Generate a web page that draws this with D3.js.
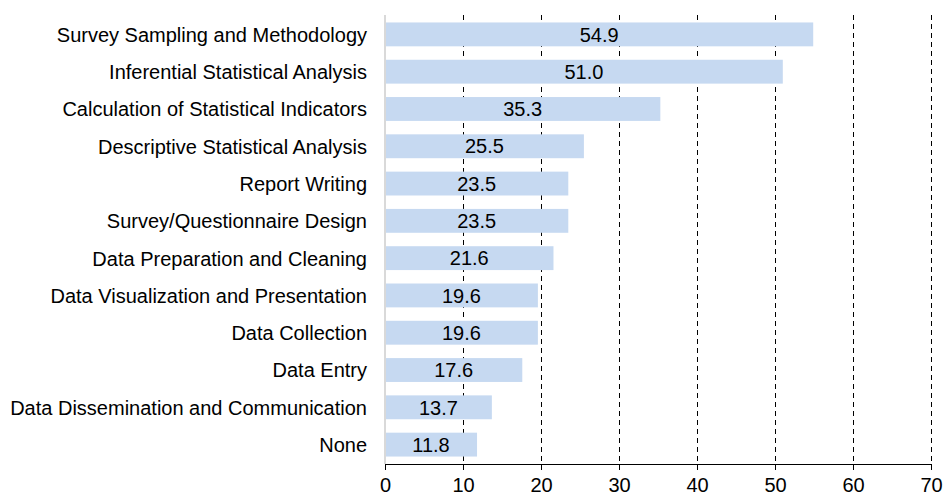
<!DOCTYPE html>
<meta charset="utf-8">
<title>Skills</title>
<style>
  body { margin: 0; background: #fff; }
  text { font-family: "Liberation Sans", Arial, sans-serif; fill: #000; }
  line, path { shape-rendering: crispEdges; }
</style>
<body>
<script src="https://d3js.org/d3.v7.min.js"></script>
<script>

const categories = [
  "Survey Sampling and Methodology",
  "Inferential Statistical Analysis",
  "Calculation of Statistical Indicators",
  "Descriptive Statistical Analysis",
  "Report Writing",
  "Survey/Questionnaire Design",
  "Data Preparation and Cleaning",
  "Data Visualization and Presentation",
  "Data Collection",
  "Data Entry",
  "Data Dissemination and Communication",
  "None"
];
const values = [54.9, 51.0, 35.3, 25.5, 23.5, 23.5, 21.6, 19.6, 19.6, 17.6, 13.7, 11.8];
const xTicks = [0, 10, 20, 30, 40, 50, 60, 70];

const width = 943, height = 495;
const margin = { top: 15, right: 12, bottom: 31, left: 385 };
const innerW = width - margin.left - margin.right;
const innerH = height - margin.top - margin.bottom;
const fontSize = '20px';

const x = d3.scaleLinear().domain([0, 70]).range([0, innerW]);
const y = d3.scaleBand().domain(categories).range([0, innerH]).paddingInner(0.36).paddingOuter(0.2);

const svg = d3.select('body').append('svg')
    .attr('width', width)
    .attr('height', height);

const g = svg.append('g')
    .attr('transform', `translate(${margin.left},${margin.top})`);

// dashed gridlines, behind the bars
g.selectAll('.grid')
    .data(xTicks.filter(d => d > 0))
    .enter().append('line')
        .attr('class', 'grid')
        .attr('x1', d => x(d)).attr('x2', d => x(d))
        .attr('y1', 0).attr('y2', innerH)
        .attr('stroke', '#000')
        .attr('stroke-width', 1)
        .attr('stroke-dasharray', '5,4');

g.selectAll('.bar')
    .data(values)
    .enter().append('rect')
        .attr('class', 'bar')
        .attr('x', 0)
        .attr('y', (d, i) => y(categories[i]))
        .attr('width', d => x(d))
        .attr('height', y.bandwidth())
        .attr('fill', '#c6d9f1');

g.selectAll('.val')
    .data(values)
    .enter().append('text')
        .attr('class', 'val')
        .attr('x', d => x(d) / 2)
        .attr('y', (d, i) => y(categories[i]) + y.bandwidth() / 2)
        .attr('dy', '0.36em')
        .attr('text-anchor', 'middle')
        .style('font-size', fontSize)
        .text(d => d.toFixed(1));

// left axis: gray line + category labels
g.append('line')
    .attr('x1', 0).attr('x2', 0)
    .attr('y1', 0).attr('y2', innerH)
    .attr('stroke', '#d9d9d9')
    .attr('stroke-width', 2);

g.selectAll('.cat')
    .data(categories)
    .enter().append('text')
        .attr('class', 'cat')
        .attr('x', -18)
        .attr('y', d => y(d) + y.bandwidth() / 2)
        .attr('dy', '0.37em')
        .attr('text-anchor', 'end')
        .style('font-size', fontSize)
        .text(d => d);

// bottom axis
const xAxis = g.append('g')
    .attr('transform', `translate(0,${innerH})`)
    .call(d3.axisBottom(x).tickValues(xTicks).tickSize(6).tickPadding(8).tickFormat(d3.format('d')));
xAxis.select('.domain').attr('stroke', '#000');
xAxis.selectAll('.tick line').attr('stroke', '#000');
xAxis.selectAll('.tick text')
    .style('font-size', fontSize)
    .style('font-family', '"Liberation Sans", Arial, sans-serif');

</script>
</body>
